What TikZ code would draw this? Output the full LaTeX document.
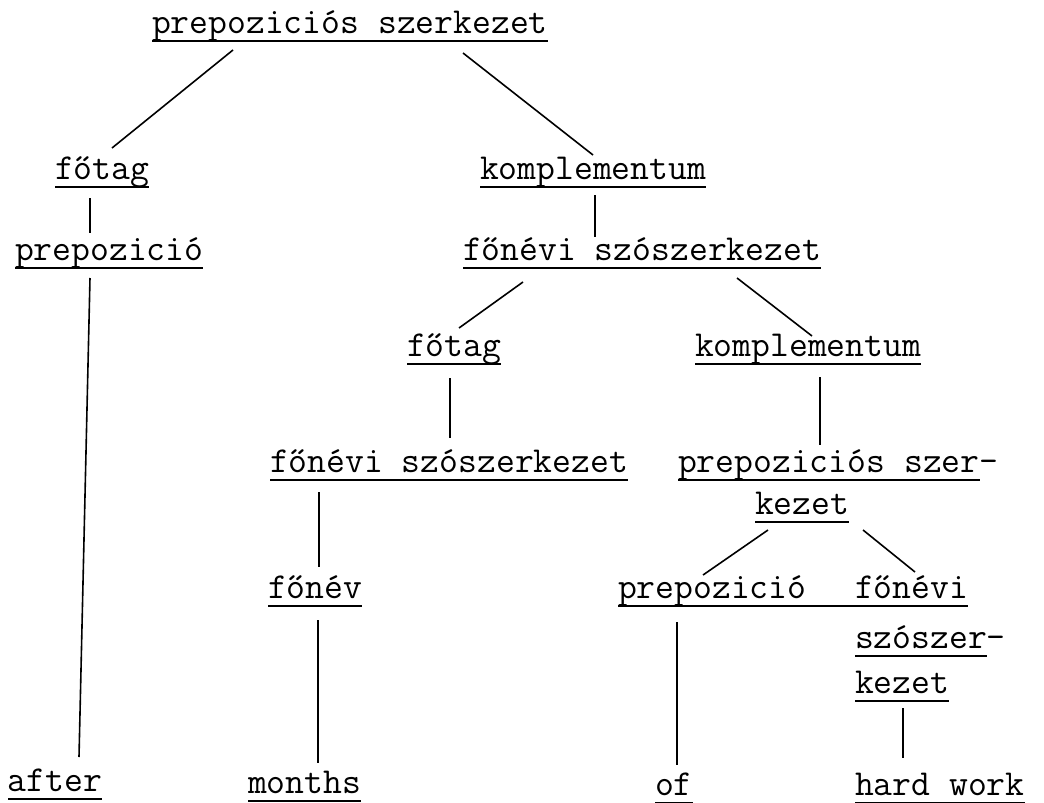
\documentclass[tikz,border=0pt]{standalone}
\usetikzlibrary{calc}
\begin{document}
\begin{tikzpicture}[x=0.5pt,y=-0.5pt]
\tikzstyle{uline}=[line width=1.1pt]
\tikzstyle{branch}=[line width=0.8pt]
\tikzstyle{word}=[font=\fontsize{18.3}{22}\selectfont\ttfamily,inner sep=0pt,outer sep=0pt,anchor=base west,
  append after command={([yshift=-4pt]\tikzlastnode.base west) edge[uline] ([yshift=-4pt]\tikzlastnode.base east)}]

\useasboundingbox (0,0) rectangle (1044,803);

% TOP
\node [word] (root) at (152,33) {prepoziciós szerkezet};

% LEFT BRANCH
\node [word] (ftag1) at (55,179) {főtag};
\node [word] (prep1) at (15,260) {prepozició};
\node [word] (after) at (8,791) {after};

% RIGHT BRANCH
\node [word] (komp1) at (480,179) {komplementum};
\node [word] (fsz1) at (463,260) {főnévi szószerkezet};
\node [word] (ftag2) at (407,356) {főtag};
\node [word] (komp2) at (695,356) {komplementum};
\node [word] (fsz2) at (270,472) {főnévi szószerkezet};
\node [word] (psz2) at (678,472) {prepoziciós szer\rlap{-}};
\node [word] (kez1) at (755,514) {kezet};
\node [word] (fnv) at (268,598) {főnév};
\node [word] (months) at (248,793) {months};

% INNER PREPOSITIONAL PHRASE
\node [word] (prep2) at (618,598) {prepozició};
\node [word] (fnv2a) at (855,598) {főnévi};
\node [word] (fnv2b) at (855,648) {szószer\rlap{-}};
\node [word] (fnv2c) at (855,693) {kezet};
\node [word] (of) at (655,795) {of};
\node [word] (hard) at (855,795) {hard work};
\draw [uline] ([yshift=-4pt]prep2.base east) -- ([yshift=-4pt]fnv2a.base west);

% BRANCHES
\draw [branch] ($(root.base west)+(81,17)$) -- ($(ftag1.base west)+(57,-31)$);
\draw [branch] ($(root.base west)+(311,20)$) -- ($(komp1.base west)+(113,-24)$);
\draw [branch] ($(ftag1.base west)+(35,19)$) -- ($(prep1.base west)+(75,-27)$);
\draw [branch] ($(prep1.base west)+(75,18)$) -- ($(after.base west)+(71,-34)$);
\draw [branch] ($(komp1.base west)+(115,16)$) -- ($(fsz1.base west)+(132,-23)$);
\draw [branch] ($(fsz1.base west)+(60,22)$) -- ($(ftag2.base west)+(52,-28)$);
\draw [branch] ($(fsz1.base west)+(274,18)$) -- ($(komp2.base west)+(117,-20)$);
\draw [branch] ($(ftag2.base west)+(43,22)$) -- ($(fsz2.base west)+(180,-34)$);
\draw [branch] ($(komp2.base west)+(125,21)$) -- ($(psz2.base west)+(142,-27)$);
\draw [branch] ($(fsz2.base west)+(49,20)$) -- ($(fnv.base west)+(51,-31)$);
\draw [branch] ($(kez1.base west)+(13,16)$) -- ($(prep2.base west)+(85,-23)$);
\draw [branch] ($(kez1.base west)+(108,16)$) -- ($(fnv2a.base west)+(60,-26)$);
\draw [branch] ($(fnv.base west)+(50,22)$) -- ($(months.base west)+(70,-30)$);
\draw [branch] ($(prep2.base west)+(59,24)$) -- ($(of.base west)+(22,-30)$);
\draw [branch] ($(fnv2c.base west)+(48,15)$) -- ($(hard.base west)+(48,-37)$);

\end{tikzpicture}
\end{document}
